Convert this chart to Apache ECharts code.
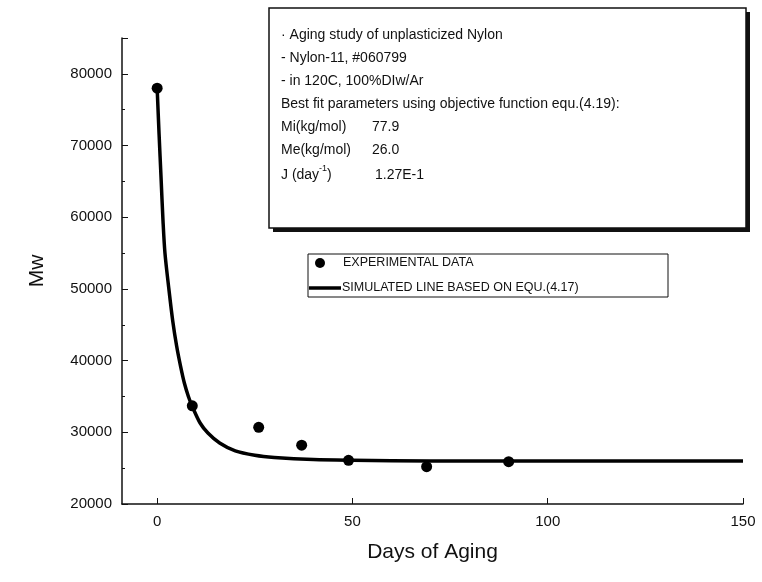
<!DOCTYPE html>
<html><head><meta charset="utf-8">
<script src="https://cdn.jsdelivr.net/npm/echarts@6/dist/echarts.min.js"></script>
<style>html,body{margin:0;background:#fff}#c{width:762px;height:582px}</style>
</head><body><div id="c"></div>
<script>
var expDays = [0, 9, 26, 37, 49, 69, 90];
var expMw = [78000, 33700, 30700, 28200, 26100, 25200, 25900];
var simDays = [0, 0.5, 1, 1.5, 2, 3, 4, 5, 6, 7, 8, 9, 11, 13, 16, 20, 25, 30, 40, 50, 70, 100, 150];
var simMw = [78000, 71500, 65500, 59500, 55000, 50000, 45500, 42000, 39200, 36800, 35000, 33600, 31300, 29900, 28500, 27400, 26800, 26500, 26200, 26100, 26000, 26000, 26000];
var xTicks = [0, 50, 100, 150];

var font = 'Liberation Sans, Arial, sans-serif';
var chart = echarts.init(document.getElementById('c'));
chart.setOption({
  animation: false,
  grid: {left: 122, right: 19, top: 38, bottom: 78},
  xAxis: {
    type: 'value', min: -9, max: 150,
    name: 'Days of Aging', nameLocation: 'middle', nameGap: 38,
    nameTextStyle: {fontFamily: font, fontSize: 21, color: '#111'},
    axisLine: {onZero: false, lineStyle: {color: '#111', width: 1.5}},
    axisTick: {customValues: xTicks, inside: true, length: 6, lineStyle: {color: '#111'}},
    minorTick: {show: false},
    axisLabel: {customValues: xTicks, fontFamily: font, fontSize: 15, color: '#111', margin: 10},
    splitLine: {show: false}
  },
  yAxis: {
    type: 'value', min: 20000, max: 85000, interval: 10000,
    name: 'Mw', nameLocation: 'middle', nameGap: 74, nameRotate: 90,
    nameTextStyle: {fontFamily: font, fontSize: 21, color: '#111'},
    axisLine: {show: true, onZero: false, lineStyle: {color: '#111', width: 1.5}},
    axisTick: {inside: true, length: 6, lineStyle: {color: '#111'}},
    minorTick: {show: true, splitNumber: 2, length: 3, lineStyle: {color: '#111'}},
    axisLabel: {fontFamily: font, fontSize: 15, color: '#111', margin: 10,
      formatter: function (v) { return v > 80000 ? '' : v; }},
    splitLine: {show: false}
  },
  series: [
    {type: 'line', data: simDays.map(function (d, i) { return [d, simMw[i]]; }),
     smooth: 0.3, showSymbol: false, lineStyle: {color: '#000', width: 3.5}, z: 2},
    {type: 'scatter', data: expDays.map(function (d, i) { return [d, expMw[i]]; }),
     symbolSize: 11, itemStyle: {color: '#000', opacity: 1}, z: 3}
  ],
  graphic: [
    {type: 'rect', shape: {x: 273, y: 12, width: 477, height: 220}, style: {fill: '#111'}},
    {type: 'rect', shape: {x: 269, y: 8, width: 477, height: 220}, style: {fill: '#fff', stroke: '#111', lineWidth: 1.5}},
    {type: 'text', left: 281, top: 28, style: {text: '· Aging study of unplasticized Nylon', font: '14px ' + font, fill: '#111'}},
    {type: 'text', left: 281, top: 51, style: {text: '- Nylon-11, #060799', font: '14px ' + font, fill: '#111'}},
    {type: 'text', left: 281, top: 74, style: {text: '- in 120C, 100%DIw/Ar', font: '14px ' + font, fill: '#111'}},
    {type: 'text', left: 281, top: 97, style: {text: 'Best fit parameters using objective function equ.(4.19):', font: '14px ' + font, fill: '#111'}},
    {type: 'text', left: 281, top: 120, style: {text: 'Mi(kg/mol)', font: '14px ' + font, fill: '#111'}},
    {type: 'text', left: 372, top: 120, style: {text: '77.9', font: '14px ' + font, fill: '#111'}},
    {type: 'text', left: 281, top: 143, style: {text: 'Me(kg/mol)', font: '14px ' + font, fill: '#111'}},
    {type: 'text', left: 372, top: 143, style: {text: '26.0', font: '14px ' + font, fill: '#111'}},
    {type: 'text', left: 281, top: 168, style: {text: 'J (day', font: '14px ' + font, fill: '#111'}},
    {type: 'text', left: 319, top: 164, style: {text: '-1', font: '9px ' + font, fill: '#111'}},
    {type: 'text', left: 327, top: 168, style: {text: ')', font: '14px ' + font, fill: '#111'}},
    {type: 'text', left: 375, top: 168, style: {text: '1.27E-1', font: '14px ' + font, fill: '#111'}},
    {type: 'rect', shape: {x: 308, y: 254, width: 360, height: 43}, style: {fill: '#fff', stroke: '#111', lineWidth: 1}},
    {type: 'circle', shape: {cx: 320, cy: 263, r: 5}, style: {fill: '#000'}},
    {type: 'line', shape: {x1: 309, y1: 288, x2: 341, y2: 288}, style: {stroke: '#000', lineWidth: 3.5}},
    {type: 'text', left: 343, top: 256, style: {text: 'EXPERIMENTAL DATA', font: '12.5px ' + font, fill: '#111'}},
    {type: 'text', left: 342, top: 281, style: {text: 'SIMULATED LINE BASED ON EQU.(4.17)', font: '12.5px ' + font, fill: '#111'}}
  ]
});
</script></body></html>
